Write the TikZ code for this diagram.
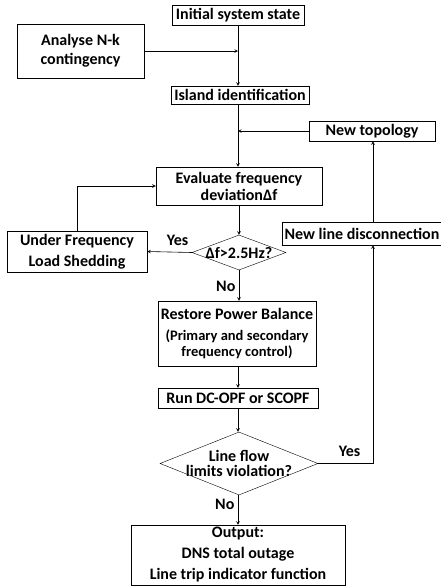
\documentclass[tikz,border=0pt]{standalone}
\usepackage{fontspec}
\setmainfont{Carlito}
\usetikzlibrary{shapes.geometric,arrows,positioning,calc}

\begin{document}
\begin{tikzpicture}[
    x=1pt, y=-1pt,
    font=\bfseries\fontsize{16}{19}\selectfont,
    box/.style={rectangle, draw, inner sep=0pt, align=center},
    dia/.style={diamond, draw, inner sep=0pt},
    arrow/.style={->, >=stealth, semithick},
    line/.style={-, semithick}
]
    \useasboundingbox (0,0) rectangle (440,587);

    % main column
    \node[box, minimum width=132pt, minimum height=20pt] (init) at (238,15) {Initial system state};
    \node[box, minimum width=127pt, minimum height=54pt] (analyse) at (80.5,51) {Analyse N-k\\contingency};
    \node[box, minimum width=138pt, minimum height=18pt] (island) at (240,95) {Island identification};
    \node[box, minimum width=126pt, minimum height=20pt] (newtop) at (372,131) {New topology};
    \node[box, minimum width=166pt, minimum height=38pt, font=\bfseries\fontsize{16}{17}\selectfont] (eval) at (239,186) {Evaluate frequency\\deviationΔf};
    \node[dia, minimum width=94pt, minimum height=35pt, label=center:{Δf>2.5Hz?}] (dfcheck) at (239,252.5) {};
    \node[box, minimum width=140pt, minimum height=41pt, font=\bfseries\fontsize{16}{21}\selectfont] (ufls) at (77,251.5) {Under Frequency\\Load Shedding};
    \node[box, minimum width=160pt, minimum height=23pt] (newline) at (362,233.5) {New line disconnection};
    \node[box, minimum width=158pt, minimum height=65pt, font=\bfseries\fontsize{14.5}{16}\selectfont] (restore) at (237,333.5)
        {{\fontsize{16}{19}\selectfont Restore Power Balance}\\[5pt](Primary and secondary\\frequency control)};
    \node[box, minimum width=160pt, minimum height=20pt] (opf) at (238,398) {Run DC-OPF or SCOPF};
    \node[dia, minimum width=158pt, minimum height=63pt,
          label={[align=center, font=\bfseries\fontsize{16}{15}\selectfont]center:Line flow\\limits violation?}] (flowcheck) at (239,463.5) {};
    \node[box, minimum width=214pt, minimum height=60pt, font=\bfseries\fontsize{16}{21}\selectfont] (output) at (238,555)
        {Output:\\DNS total outage\\Line trip indicator function};

    \coordinate (turn) at (373,463.5);

    \draw[arrow] (init) -- (init |- island.north);
    \draw[arrow] (analyse.east) -- (analyse.east -| init);
    \draw[arrow] (island.south -| init) -- (eval.north -| init);
    \draw[arrow] (newtop.west) -- (newtop.west -| init);
    \draw[arrow] (eval.south -| dfcheck) -- (dfcheck.north);
    \draw[arrow] (dfcheck.west) -- node[above, xshift=8pt, yshift=3pt] {Yes} (ufls.east);
    \draw[arrow] (ufls.north) |- (eval.west);
    \draw[arrow] (dfcheck.south) -- node[left, yshift=-1pt] {No} (restore.north -| dfcheck);
    \draw[arrow] (restore.south -| opf) -- (opf.north);
    \draw[arrow] (opf.south) -- (flowcheck.north -| opf);
    \draw[arrow] (flowcheck.south -| output) -- node[left, pos=0.3] {No} (output.north);
    \draw[line] (flowcheck.east) -- node[above, xshift=4pt, yshift=3pt] {Yes} (turn);
    \draw[arrow] (turn) -- (turn |- newline.south);
    \draw[arrow] (turn |- newline.north) -- (turn |- newtop.south);
\end{tikzpicture}
\end{document}
